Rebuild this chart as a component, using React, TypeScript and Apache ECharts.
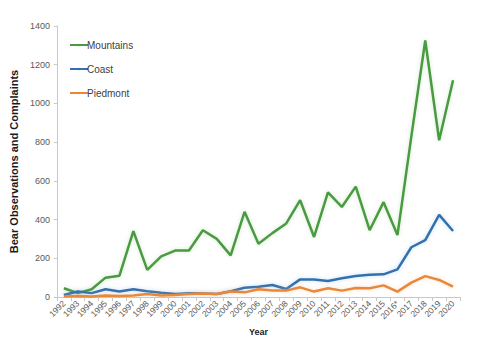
import React, { useEffect, useRef } from "react";
import * as echarts from "echarts";

const years = ["1992","1993","1994","1995","1996","1997","1998","1999","2000","2001","2002","2003","2004","2005","2006","2007","2008","2009","2010","2011","2012","2013","2014","2015","2016*","2017","2018","2019","2020"];
const mountains = [45,20,40,100,110,340,140,210,240,240,345,300,215,440,275,330,380,500,310,540,465,570,345,490,320,830,1325,810,1120];
const coast = [10,28,20,40,28,40,30,22,16,20,18,16,30,48,53,62,41,91,90,83,97,108,115,117,143,257,294,424,341];
const piedmont = [3,5,3,8,5,8,15,8,10,15,18,15,28,24,40,33,33,50,28,45,33,47,45,60,28,74,108,88,53];
const yTicks = [0, 200, 400, 600, 800, 1000, 1200, 1400];

export default function App() {
  const ref = useRef<HTMLDivElement>(null);
  useEffect(() => {
    if (!ref.current) return;
    const chart = echarts.init(ref.current, null, { renderer: "svg" });
    const mk = (name: string, data: number[], color: string, glow: string) => ({
      name,
      type: "line",
      data,
      symbol: "none",
      lineStyle: { color, width: 2.5, shadowColor: glow, shadowBlur: 4 },
      itemStyle: { color },
    });
    chart.setOption({
      animation: false,
      backgroundColor: "#ffffff",
      grid: { left: 54, right: 23, top: 26, bottom: 49 },
      legend: {
        orient: "vertical",
        left: 64,
        top: 35,
        itemWidth: 18,
        itemHeight: 3,
        itemGap: 14,
        textStyle: { fontSize: 10, color: "#404040", fontFamily: "Liberation Sans, Arial", padding: [0, 0, 0, -6] },
        data: ["Mountains", "Coast", "Piedmont"],
      },
      xAxis: {
        type: "category",
        data: years,
        boundaryGap: true,
        name: "Year",
        nameLocation: "middle",
        nameGap: 30,
        nameTextStyle: { fontSize: 9, fontWeight: "bold", color: "#222", fontFamily: "Liberation Sans, Arial" },
        axisLine: { lineStyle: { color: "#c8c8c8" } },
        axisTick: { show: true, length: 4, lineStyle: { color: "#c8c8c8" } },
        axisLabel: { interval: 0, rotate: 45, fontSize: 8.5, color: "#595959", margin: 5, fontFamily: "Liberation Sans, Arial" },
      },
      yAxis: {
        type: "value",
        min: yTicks[0],
        max: yTicks[yTicks.length - 1],
        interval: 200,
        name: "Bear Observations and Complaints",
        nameLocation: "middle",
        nameGap: 28,
        nameTextStyle: { fontSize: 11, fontWeight: "bold", color: "#1a1a1a", fontFamily: "Liberation Sans, Arial" },
        axisLine: { show: true, lineStyle: { color: "#c8c8c8" } },
        axisTick: { show: true, length: 3, lineStyle: { color: "#c8c8c8" } },
        splitLine: { show: false },
        axisLabel: { fontSize: 9, color: "#595959", margin: 7, fontFamily: "Liberation Sans, Arial", formatter: (v: number) => String(v) },
      },
      series: [
        mk("Mountains", mountains, "#4a9a40", "rgba(120,190,110,0.35)"),
        mk("Coast", coast, "#3370ae", "rgba(110,170,230,0.4)"),
        mk("Piedmont", piedmont, "#e9883a", "rgba(245,180,120,0.4)"),
      ],
    });
    return () => chart.dispose();
  }, []);
  return <div ref={ref} style={{ width: 483, height: 346, position: "absolute", left: 0, top: 0 }} />;
}
